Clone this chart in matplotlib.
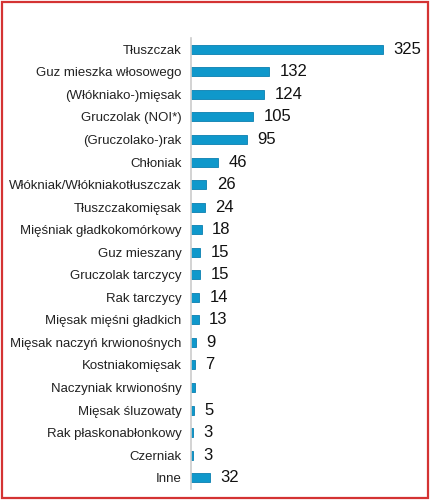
import matplotlib.pyplot as plt
from matplotlib.patches import Rectangle

plt.rcParams['font.family'] = ['Liberation Sans', 'DejaVu Sans']

categories = ['Tłuszczak', 'Guz mieszka włosowego', '(Włókniako-)mięsak',
              'Gruczolak (NOI*)', '(Gruczolako-)rak', 'Chłoniak',
              'Włókniak/Włókniakotłuszczak', 'Tłuszczakomięsak',
              'Mięśniak gładkokomórkowy', 'Guz mieszany', 'Gruczolak tarczycy',
              'Rak tarczycy', 'Mięsak mięśni gładkich', 'Mięsak naczyń krwionośnych',
              'Kostniakomięsak', 'Naczyniak krwionośny', 'Mięsak śluzowaty',
              'Rak płaskonabłonkowy', 'Czerniak', 'Inne']
values = [325, 132, 124, 105, 95, 46, 26, 24, 18, 15, 15, 14, 13, 9, 7, 6, 5, 3, 3, 32]
# the reference shows no number next to "Naczyniak krwionośny"
value_labels = ['325', '132', '124', '105', '95', '46', '26', '24', '18', '15', '15',
                '14', '13', '9', '7', '', '5', '3', '3', '32']

fig = plt.figure(figsize=(4.3, 5.0), dpi=100)
ax = fig.add_axes([191 / 430, 1 - 489 / 500, 236 / 430, 451 / 500])

pos = list(range(len(categories)))
ax.barh(pos, values, height=0.4, color='#0f98cb', edgecolor='#0a7fb0', linewidth=0.6)
ax.set_xlim(0, 400)
ax.set_ylim(len(categories) - 0.5, -0.5)
ax.set_yticks(pos)
ax.set_yticklabels(categories, fontsize=9.5, color='#222222')
ax.tick_params(axis='y', length=0, pad=7)
ax.set_xticks([])

for s in ['top', 'right', 'bottom']:
    ax.spines[s].set_visible(False)
ax.spines['left'].set_color('#cccccc')
ax.spines['left'].set_linewidth(1.2)

for p, v, t in zip(pos, values, value_labels):
    ax.annotate(t, (v, p), xytext=(7.5, 0), textcoords='offset points',
                va='center', ha='left', fontsize=12, color='#111111')

fig.patches.append(Rectangle((2 / 430, 2 / 500), 426 / 430, 496 / 500,
                             transform=fig.transFigure, fill=False,
                             edgecolor='#d43333', linewidth=1.6))

fig.savefig('out.png', dpi=100)
